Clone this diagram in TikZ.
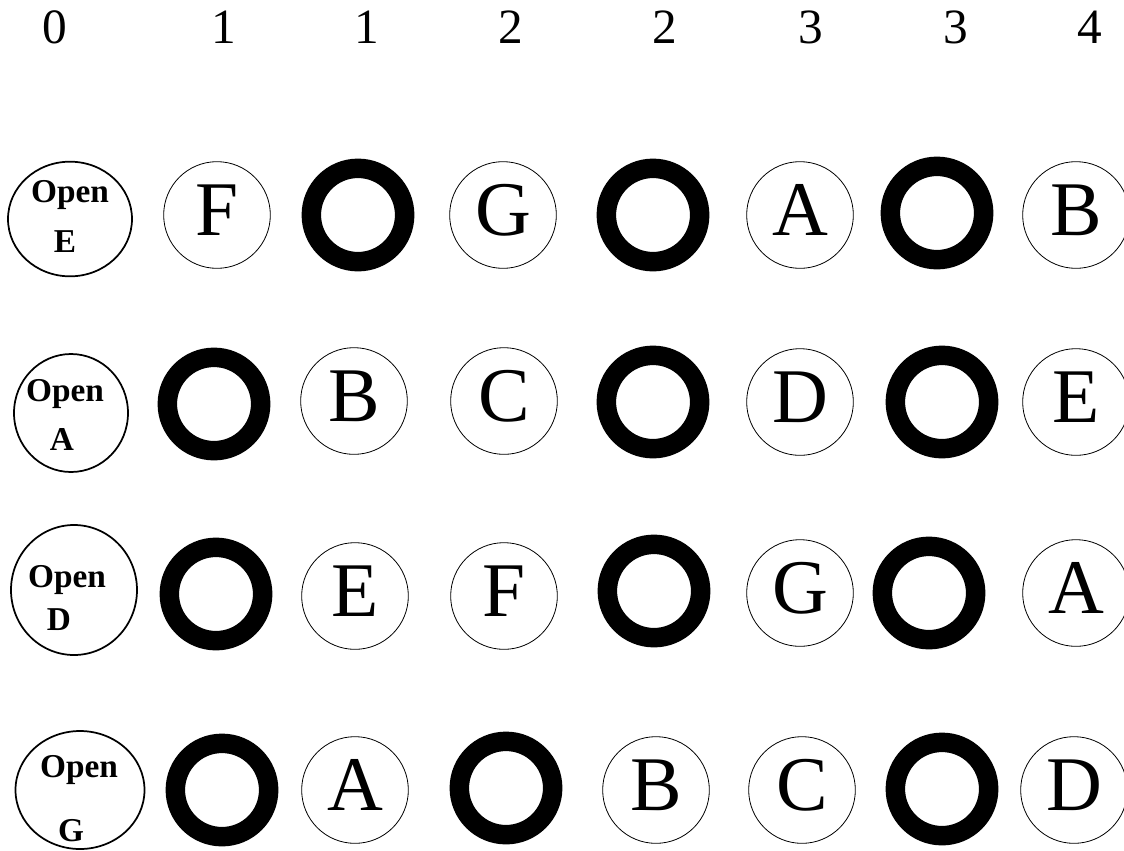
\documentclass[tikz,border=0pt]{standalone}
\usepackage{fontspec}
\setmainfont{Liberation Serif}
\usetikzlibrary{shapes.geometric}

\begin{document}
\begin{tikzpicture}[x=0.75pt,y=-0.75pt,
 fretnum/.style={anchor=base,font=\fontsize{37}{40}\selectfont},
 openring/.style={draw,ellipse,line width=1.3pt,inner sep=0pt},
 opentext/.style={anchor=base,font=\fontsize{25}{26}\selectfont\bfseries},
 notering/.style={draw,circle,line width=0.6pt,minimum size=80pt,inner sep=0pt,text depth=7.5pt,font=\fontsize{58}{60}\selectfont},
 fretring/.style={draw,circle,line width=14.6pt,minimum size=70pt,inner sep=0pt}]
\useasboundingbox (0,0) rectangle (1124,850);
% fret numbers
\node[fretnum] (n0) at (55,43) {0};
\node[fretnum] (n1) at (224,43) {1};
\node[fretnum] (n2) at (367,43) {1};
\node[fretnum] (n3) at (511,43) {2};
\node[fretnum] (n4) at (665,43) {2};
\node[fretnum] (n5) at (811,43) {3};
\node[fretnum] (n6) at (956,43) {3};
\node[fretnum] (n7) at (1090,43) {4};
% E string
\node[openring,minimum width=93pt,minimum height=86pt] (e0) at (70,219) {};
\node[opentext] (e0top) at (70,202) {Open};
\node[opentext] (e0name) at (65,252) {E};
\node[notering] (e1) at (217,215) {F};
\node[fretring] (e2) at (358,215) {};
\node[notering] (e3) at (503,215) {G};
\node[fretring] (e4) at (653,215) {};
\node[notering] (e5) at (800,215) {A};
\node[fretring] (e6) at (937,213) {};
\node[notering] (e7) at (1076,215) {B};
% A string
\node[openring,minimum width=85.5pt,minimum height=88.5pt] (a0) at (71,413) {};
\node[opentext] (a0top) at (65,401) {Open};
\node[opentext] (a0name) at (62,450) {A};
\node[fretring] (a1) at (214,404) {};
\node[notering] (a2) at (354,401) {B};
\node[notering] (a3) at (504,401) {C};
\node[fretring] (a4) at (653,402) {};
\node[notering] (a5) at (800,402) {D};
\node[fretring] (a6) at (942,402) {};
\node[notering] (a7) at (1076,402) {E};
% D string
\node[openring,minimum width=94.5pt,minimum height=97.5pt] (d0) at (74,590) {};
\node[opentext] (d0top) at (67,587) {Open};
\node[opentext] (d0name) at (59,630) {D};
\node[fretring] (d1) at (216,594) {};
\node[notering] (d2) at (355,596) {E};
\node[notering] (d3) at (504,596) {F};
\node[fretring] (d4) at (654,591) {};
\node[notering] (d5) at (800,593) {G};
\node[fretring] (d6) at (929,593) {};
\node[notering] (d7) at (1076,593) {A};
% G string
\node[openring,minimum width=96.75pt,minimum height=88.5pt] (g0) at (80,790) {};
\node[opentext] (g0top) at (79,777) {Open};
\node[opentext] (g0name) at (71,841) {G};
\node[fretring] (g1) at (222,790) {};
\node[notering] (g2) at (355,790) {A};
\node[fretring] (g3) at (506,788) {};
\node[notering] (g4) at (656,790) {B};
\node[notering] (g5) at (802,790) {C};
\node[fretring] (g6) at (942,789) {};
\node[notering] (g7) at (1074,790) {D};
\end{tikzpicture}
\end{document}
